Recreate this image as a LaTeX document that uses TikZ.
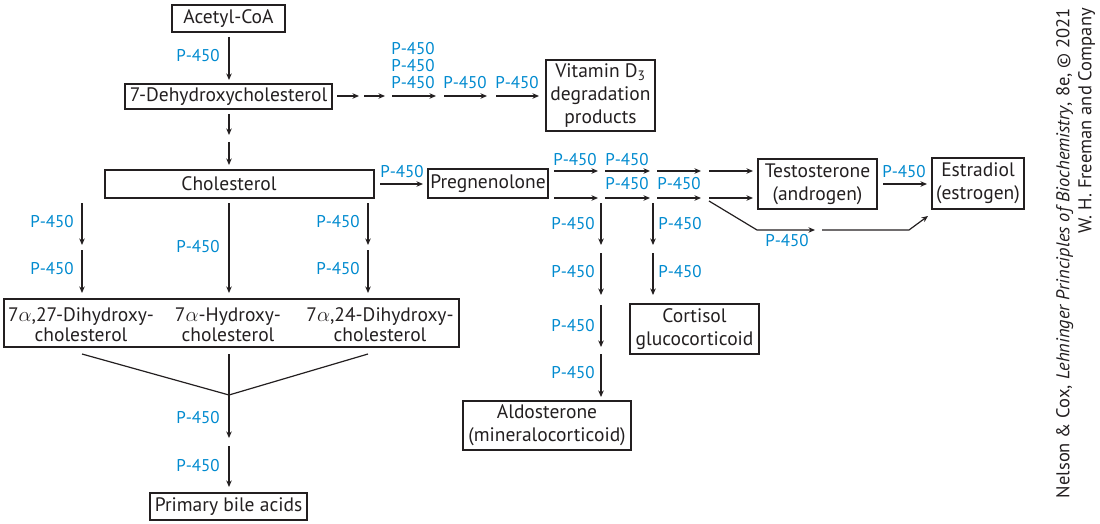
\documentclass[tikz,border=0pt]{standalone}
\usepackage{fontspec}
\setmainfont{PT Sans}
\usetikzlibrary{arrows.meta}
\definecolor{pblue}{RGB}{0,138,207}
\definecolor{ink}{RGB}{35,31,32}
\begin{document}
\begin{tikzpicture}[x=1pt,y=-1pt,
  box/.style={draw=ink, line width=1.1pt, inner sep=0pt, text=ink, font=\fontsize{19.5}{23}\selectfont, align=center},
  txt/.style={inner sep=0pt, text=ink, font=\fontsize{19.5}{20}\selectfont, align=center},
  lab/.style={inner sep=0pt, text=pblue, font=\fontsize{17}{19}\selectfont},
  arr/.style={draw=ink, line width=1.2pt, -{Stealth[length=6.5pt,width=5.5pt]}},
  ln/.style={draw=ink, line width=1.2pt}]
\useasboundingbox (0,0) rectangle (1100,524);

% boxes
\node[box, minimum width=113pt, minimum height=27pt] (acetyl) at (228.5,18.5) {Acetyl-CoA};
\node[box, minimum width=207pt, minimum height=25pt] (dehyd) at (228.5,96.5) {7-Dehydroxycholesterol};
\node[box, minimum width=109pt, minimum height=71pt] (vitd) at (600.5,95.5) {Vitamin D\textsubscript{3}\\degradation\\products};
\node[box, minimum width=269pt, minimum height=28pt] (chol) at (239.5,184) {};
\node[txt] (choltext) at (229,184) {Cholesterol};
\node[box, minimum width=120pt, minimum height=29pt] (preg) at (488,183.5) {Pregnenolone};
\node[box, minimum width=119pt, minimum height=50pt] (testo) at (817.5,184) {Testosterone\\(androgen)};
\node[box, minimum width=92pt, minimum height=51pt] (estra) at (978,183.5) {Estradiol\\(estrogen)};
\node[box, minimum width=129pt, minimum height=50pt] (cort) at (694.5,329) {Cortisol\\glucocorticoid};
\node[box, minimum width=168pt, minimum height=49pt] (aldo) at (547,425.5) {Aldosterone\\(mineralocorticoid)};
\node[box, minimum width=455pt, minimum height=48pt] (hyd) at (231.5,323) {};
\node[txt] (d27) at (81,325) {7$\alpha$,27-Dihydroxy-\\cholesterol};
\node[txt] (h7) at (228,325) {7$\alpha$-Hydroxy-\\cholesterol};
\node[txt] (d24) at (380,325) {7$\alpha$,24-Dihydroxy-\\cholesterol};
\node[box, minimum width=157pt, minimum height=27pt] (bile) at (228.5,506.5) {Primary bile acids};

% coordinates
\coordinate (c1a) at (229,37);  \coordinate (c1b) at (229,80);
\coordinate (v0) at (337,96); \coordinate (v1) at (359,96);
\coordinate (v2) at (364,96); \coordinate (v3) at (385,96);
\coordinate (v4) at (392,96); \coordinate (v5) at (436,96);
\coordinate (v6) at (444,96); \coordinate (v7) at (487,96);
\coordinate (v8) at (496,96); \coordinate (v9) at (539,96);
\coordinate (d1) at (229,114); \coordinate (d2) at (229,135);
\coordinate (d3) at (229,142); \coordinate (d4) at (229,165);
\coordinate (p0) at (380,184); \coordinate (p1) at (423,184);
\coordinate (u0) at (554,171); \coordinate (u1) at (598,171);
\coordinate (u2) at (605,171); \coordinate (u3) at (650,171);
\coordinate (u4) at (657,171); \coordinate (u5) at (701,171);
\coordinate (u6) at (709,171); \coordinate (u7) at (753,171);
\coordinate (w0) at (554,198); \coordinate (w1) at (598,198);
\coordinate (w2) at (605,198); \coordinate (w3) at (650,198);
\coordinate (w4) at (657,198); \coordinate (w5) at (701,198);
\coordinate (w6) at (709,198); \coordinate (w7) at (753,198);
\coordinate (g0) at (709,201); \coordinate (g1) at (757,230); \coordinate (g2) at (815,230);
\coordinate (g3) at (822,230); \coordinate (g4) at (909,230); \coordinate (g5) at (928,216);
\coordinate (t0) at (883,184); \coordinate (t1) at (927,184);
\coordinate (m0) at (601,203); \coordinate (m1) at (601,245);
\coordinate (m2) at (601,253); \coordinate (m3) at (601,295);
\coordinate (m4) at (601,305); \coordinate (m5) at (601,347);
\coordinate (m6) at (601,354); \coordinate (m7) at (601,397);
\coordinate (n0) at (653,203); \coordinate (n1) at (653,245);
\coordinate (n2) at (653,253); \coordinate (n3) at (653,295);
\coordinate (l0) at (82,203); \coordinate (l1) at (82,245);
\coordinate (l2) at (82,250); \coordinate (l3) at (82,293);
\coordinate (k0) at (229,203); \coordinate (k1) at (229,293);
\coordinate (r0) at (368,203); \coordinate (r1) at (368,245);
\coordinate (r2) at (368,250); \coordinate (r3) at (368,293);
\coordinate (b1) at (82,354); \coordinate (b2) at (368,354);
\coordinate (b3) at (229,354); \coordinate (bj) at (229,395);
\coordinate (b4) at (229,438); \coordinate (b5) at (229,446); \coordinate (b6) at (229,487);

% connectors
\draw[arr] (c1a) -- (c1b);
\draw[arr] (v0) -- (v1); \draw[arr] (v2) -- (v3); \draw[arr] (v4) -- (v5);
\draw[arr] (v6) -- (v7); \draw[arr] (v8) -- (v9);
\draw[arr] (d1) -- (d2); \draw[arr] (d3) -- (d4);
\draw[arr] (p0) -- (p1);
\draw[arr] (u0) -- (u1); \draw[arr] (u2) -- (u3); \draw[arr] (u4) -- (u5); \draw[arr] (u6) -- (u7);
\draw[arr] (w0) -- (w1); \draw[arr] (w2) -- (w3); \draw[arr] (w4) -- (w5); \draw[arr] (w6) -- (w7);
\draw[arr] (g0) -- (g1) -- (g2);
\draw[arr] (g3) -- (g4) -- (g5);
\draw[arr] (t0) -- (t1);
\draw[arr] (m0) -- (m1); \draw[arr] (m2) -- (m3); \draw[arr] (m4) -- (m5); \draw[arr] (m6) -- (m7);
\draw[arr] (n0) -- (n1); \draw[arr] (n2) -- (n3);
\draw[arr] (l0) -- (l1); \draw[arr] (l2) -- (l3);
\draw[arr] (k0) -- (k1);
\draw[arr] (r0) -- (r1); \draw[arr] (r2) -- (r3);
\draw[ln] (b1) -- (bj) -- (b2);
\draw[arr] (b3) -- (b4);
\draw[arr] (b5) -- (b6);

% labels
\node[lab] (q1) at (198,56) {P-450};
\node[lab] (q2) at (413,49) {P-450};
\node[lab] (q3) at (413,66) {P-450};
\node[lab] (q4) at (413,83) {P-450};
\node[lab] (q5) at (465,83) {P-450};
\node[lab] (q6) at (517,83) {P-450};
\node[lab] (q7) at (402,172) {P-450};
\node[lab] (q8) at (575,160) {P-450};
\node[lab] (q9) at (627,160) {P-450};
\node[lab] (q10) at (627,184) {P-450};
\node[lab] (q11) at (679,184) {P-450};
\node[lab] (q12) at (787,241) {P-450};
\node[lab] (q13) at (904,172) {P-450};
\node[lab] (q14) at (573,224) {P-450};
\node[lab] (q15) at (573,272) {P-450};
\node[lab] (q16) at (573,326) {P-450};
\node[lab] (q17) at (573,373) {P-450};
\node[lab] (q18) at (680,224) {P-450};
\node[lab] (q19) at (680,272) {P-450};
\node[lab] (q20) at (52,222) {P-450};
\node[lab] (q21) at (52,269) {P-450};
\node[lab] (q22) at (198,247) {P-450};
\node[lab] (q23) at (338,222) {P-450};
\node[lab] (q24) at (338,269) {P-450};
\node[lab] (q25) at (198,418) {P-450};
\node[lab] (q26) at (198,466) {P-450};

% credit
\node[rotate=90, anchor=north east, align=right, inner sep=0pt, text=ink, font=\fontsize{18.5}{22}\selectfont] (credit) at (1056,8) {Nelson \& Cox, \textit{Lehninger Principles of Biochemistry}, 8e, © 2021\\W. H. Freeman and Company};
\end{tikzpicture}
\end{document}
